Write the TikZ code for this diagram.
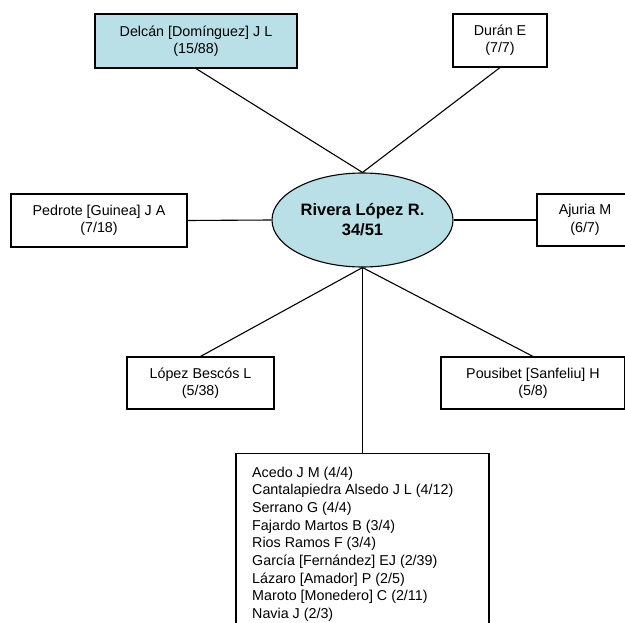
\documentclass[tikz,border=0pt]{standalone}
\usepackage{fontspec}
\setmainfont{Liberation Sans}
\usetikzlibrary{shapes.geometric}
\definecolor{nodecyan}{RGB}{184,224,230}
\tikzset{
  person/.style={draw=black, line width=1.1pt, rectangle, inner sep=0pt, align=center,
    font=\fontsize{14.3}{17.4}\selectfont},
  centre/.style={draw=black, line width=1.1pt, ellipse, fill=nodecyan, inner sep=0pt,
    minimum width=181pt, minimum height=94pt, align=center,
    font=\fontsize{16.5}{20}\selectfont\bfseries},
  link/.style={draw=black, line width=1.1pt},
  listtext/.style={anchor=north west, inner sep=0pt, align=left,
    font=\fontsize{14.3}{17.7}\selectfont}
}
\begin{document}
\begin{tikzpicture}[x=1pt,y=-1pt]
\useasboundingbox (0,0) rectangle (625,623);
\fill[white] (0,0) rectangle (625,623);
\clip (0,0) rectangle (625,623);

\node[centre] (rivera) at (362.5,220) {Rivera López R.\\34/51};

\node[person, fill=nodecyan, minimum width=202pt, minimum height=54pt] (delcan) at (196,41) {Delcán [Domínguez] J L\\(15/88)};
\node[person, minimum width=94pt, minimum height=53pt] (duran) at (500,40.5) {Durán E\\(7/7)};
\node[person, minimum width=176pt, minimum height=53pt] (pedrote) at (99,220.5) {Pedrote [Guinea] J A\\(7/18)};
\node[person, minimum width=96pt, minimum height=52pt] (ajuria) at (585,220) {Ajuria M\\(6/7)};
\node[person, minimum width=147pt, minimum height=52pt] (lopez) at (200.5,383) {López Bescós L\\(5/38)};
\node[person, minimum width=184pt, minimum height=52pt] (pousibet) at (533,383) {Pousibet [Sanfeliu] H\\(5/8)};
\node[person, minimum width=253pt, minimum height=200pt, anchor=north] (others) at (362.5,453) {};
\node[listtext] (otherslist) at (252,466.5) {Acedo J M (4/4)\\
Cantalapiedra Alsedo J L (4/12)\\
Serrano G (4/4)\\
Fajardo Martos B (3/4)\\
Rios Ramos F (3/4)\\
García [Fernández] EJ (2/39)\\
Lázaro [Amador] P (2/5)\\
Maroto [Monedero] C (2/11)\\
Navia J (2/3)};

\draw[link] (rivera.north) -- (delcan.south);
\draw[link] (rivera.north) -- (duran.south);
\draw[link] (pedrote.east) -- (rivera.west);
\draw[link] (rivera.east) -- (ajuria.west);
\draw[link] (rivera.south) -- (lopez.north);
\draw[link] (rivera.south) -- (pousibet.north);
\draw[link] (rivera.south) -- (others.north);
\end{tikzpicture}
\end{document}
